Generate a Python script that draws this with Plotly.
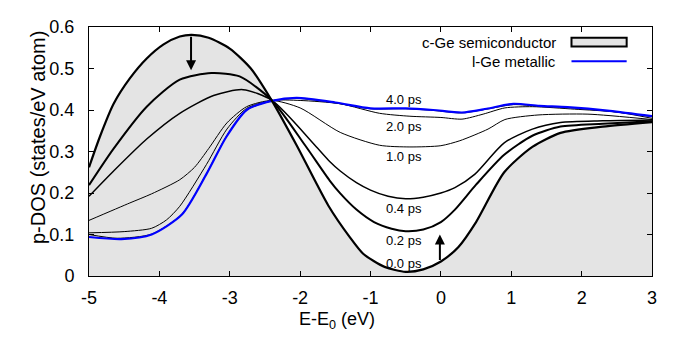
import plotly.graph_objects as go

# ---------------- data ----------------
x_00 = [-5, -4.84, -4.65, -4.42, -4.18, -3.94, -3.71, -3.54, -3.3, -3.0, -2.7, -2.4, -2.05, -1.6, -1.3, -1.1, -0.8, -0.5, -0.25, 0.0, 0.25, 0.5, 0.9, 1.3, 1.7, 2.3, 3.0]
y_00 = [0.262, 0.338, 0.415, 0.476, 0.524, 0.558, 0.577, 0.581, 0.574, 0.548, 0.50, 0.422, 0.315, 0.17, 0.095, 0.053, 0.022, 0.01, 0.016, 0.035, 0.07, 0.13, 0.25, 0.311, 0.345, 0.36, 0.371]

x_02 = [-5, -4.65, -4.18, -3.71, -3.26, -2.86, -2.4, -1.93, -1.58, -1.43, -1.2, -0.95, -0.7, -0.5, -0.25, 0.0, 0.2, 0.5, 0.9, 1.3, 1.7, 2.3, 3.0]
y_02 = [0.219, 0.307, 0.408, 0.473, 0.489, 0.481, 0.423, 0.315, 0.23, 0.199, 0.16, 0.13, 0.114, 0.108, 0.112, 0.13, 0.16, 0.22, 0.292, 0.338, 0.36, 0.367, 0.373]

x_04 = [-5, -4.65, -4.18, -3.71, -3.23, -2.81, -2.4, -1.79, -1.58, -1.43, -1.2, -1.0, -0.75, -0.5, -0.25, 0.0, 0.2, 0.48, 0.9, 1.3, 1.7, 2.3, 3.0]
y_04 = [0.192, 0.253, 0.33, 0.392, 0.435, 0.449, 0.423, 0.315, 0.276, 0.253, 0.225, 0.207, 0.192, 0.186, 0.19, 0.2, 0.213, 0.245, 0.321, 0.354, 0.37, 0.374, 0.376]

x_10 = [-5, -4.42, -4.11, -3.71, -3.5, -3.3, -3.04, -2.76, -2.4, -2.0, -1.43, -0.87, -0.44, 0.0, 0.27, 0.67, 0.91, 1.38, 2.09, 3.0]
y_10 = [0.134, 0.176, 0.198, 0.232, 0.262, 0.307, 0.369, 0.408, 0.423, 0.405, 0.346, 0.315, 0.311, 0.314, 0.326, 0.354, 0.377, 0.388, 0.39, 0.377]

x_20 = [-5, -4.5, -4.11, -3.9, -3.71, -3.33, -3.04, -2.76, -2.4, -2.0, -1.43, -0.87, -0.44, 0.0, 0.3, 0.6, 0.91, 1.3, 1.9, 2.5, 3.0]
y_20 = [0.104, 0.107, 0.115, 0.135, 0.168, 0.269, 0.354, 0.404, 0.423, 0.423, 0.415, 0.392, 0.385, 0.382, 0.378, 0.39, 0.405, 0.408, 0.402, 0.395, 0.38]

x_40 = [-5, -4.6, -4.11, -3.68, -3.33, -3.05, -2.76, -2.4, -2.05, -1.5, -1.0, -0.5, -0.11, 0.3, 0.65, 1.03, 1.4, 1.8, 2.4, 3.0]
y_40 = [0.100, 0.091, 0.101, 0.149, 0.247, 0.336, 0.40, 0.422, 0.428, 0.417, 0.403, 0.403, 0.399, 0.393, 0.402, 0.413, 0.409, 0.406, 0.397, 0.384]

x_liq = [-5, -4.54, -4.11, -3.68, -3.33, -3.05, -2.76, -2.4, -2.05, -1.5, -1.0, -0.5, -0.11, 0.3, 0.65, 1.03, 1.4, 1.8, 2.4, 3.0]
y_liq = [0.094, 0.089, 0.1, 0.148, 0.246, 0.335, 0.40, 0.422, 0.429, 0.418, 0.404, 0.404, 0.40, 0.394, 0.403, 0.415, 0.41, 0.407, 0.398, 0.385]

time_labels = ["4.0 ps", "2.0 ps", "1.0 ps", "0.4 ps", "0.2 ps", "0.0 ps"]
label_y = [0.426, 0.361, 0.287, 0.162, 0.086, 0.03]
label_x = -0.52

x_ticks = [-5, -4, -3, -2, -1, 0, 1, 2, 3]
x_ticktext = ["-5", "-4", "-3", "-2", "-1", "0", "1", "2", "3"]
y_ticks = [0, 0.1, 0.2, 0.3, 0.4, 0.5, 0.6]
y_ticktext = ["0", "0.1", "0.2", "0.3", "0.4", "0.5", "0.6"]

legend_names = ["c-Ge semiconductor", "l-Ge metallic"]

# ---------------- figure ----------------
FONT = "Liberation Sans, Arial, Helvetica, sans-serif"
GREY = "#e4e4e4"
BLUE = "#0000ff"
SMOOTH = 0.7

fig = go.Figure()

# filled c-Ge region
fig.add_trace(go.Scatter(x=x_00, y=y_00, mode="lines", fill="tozeroy", fillcolor=GREY,
                         line=dict(color="rgba(0,0,0,0)", width=0, shape="spline", smoothing=SMOOTH),
                         showlegend=False, hoverinfo="skip"))

curves = [
    (x_40, y_40, "black", 1.0),
    (x_20, y_20, "black", 1.0),
    (x_10, y_10, "black", 1.0),
    (x_04, y_04, "black", 1.5),
    (x_02, y_02, "black", 2.0),
    (x_liq, y_liq, BLUE, 2.2),
    (x_00, y_00, "black", 2.2),
]
for xs, ys, c, w in curves:
    fig.add_trace(go.Scatter(x=xs, y=ys, mode="lines",
                             line=dict(color=c, width=w, shape="spline", smoothing=SMOOTH),
                             showlegend=False))

annotations = []
for t, yy in zip(time_labels, label_y):
    annotations.append(dict(x=label_x, y=yy, xref="x", yref="y", text=t, showarrow=False,
                            font=dict(family=FONT, size=13, color="black")))

# arrows
annotations.append(dict(x=-3.55, y=0.496, ax=-3.55, ay=0.58, xref="x", yref="y", axref="x", ayref="y",
                        showarrow=True, arrowhead=2, arrowsize=1, arrowwidth=2, arrowcolor="black", text=""))
annotations.append(dict(x=-0.014, y=0.10, ax=-0.014, ay=0.035, xref="x", yref="y", axref="x", ayref="y",
                        showarrow=True, arrowhead=2, arrowsize=1, arrowwidth=2, arrowcolor="black", text=""))

# axis titles (placed like the original)
annotations.append(dict(x=0.44, y=-0.18, xref="paper", yref="paper", text="E-E<sub>0</sub> (eV)",
                        showarrow=False, font=dict(family=FONT, size=18, color="black"), yanchor="middle"))
annotations.append(dict(x=-0.1137, y=0.558, xref="paper", yref="paper", text="p-DOS (states/eV atom)",
                        textangle=-90, showarrow=False, font=dict(family=FONT, size=20, color="black")))

# manual legend (text left of key, as in the original)
annotations.append(dict(x=0.833, y=0.938, xref="paper", yref="paper", text=legend_names[0], showarrow=False,
                        xanchor="right", yanchor="middle", font=dict(family=FONT, size=15, color="black")))
annotations.append(dict(x=0.833, y=0.861, xref="paper", yref="paper", text=legend_names[1], showarrow=False,
                        xanchor="right", yanchor="middle", font=dict(family=FONT, size=15, color="black")))

shapes = [
    dict(type="rect", xref="paper", yref="paper", x0=0.857, x1=0.955, y0=0.9216, y1=0.9564,
         fillcolor=GREY, line=dict(color="black", width=2)),
    dict(type="line", xref="paper", yref="paper", x0=0.857, x1=0.955, y0=0.862, y1=0.862,
         line=dict(color=BLUE, width=2)),
]

axis_common = dict(showline=True, linecolor="black", linewidth=1, mirror="ticks",
                   ticks="inside", ticklen=5, tickcolor="black", tickwidth=1,
                   showgrid=False, zeroline=False, ticklabeloverflow="allow",
                   tickfont=dict(family=FONT, size=18, color="black"))

# page body has an 8px default margin, so the figure is sized/offset to compensate
fig.update_layout(
    width=666, height=331,
    margin=dict(l=81, r=22, t=9, b=63),
    paper_bgcolor="white", plot_bgcolor="white",
    xaxis=dict(range=[-5, 3], tickvals=x_ticks, ticktext=x_ticktext, ticklabelstandoff=5, **axis_common),
    yaxis=dict(range=[0, 0.6], tickvals=y_ticks, ticktext=y_ticktext, ticklabelstandoff=10, **axis_common),
    annotations=annotations, shapes=shapes, showlegend=False,
)

fig.write_html("out.html")
